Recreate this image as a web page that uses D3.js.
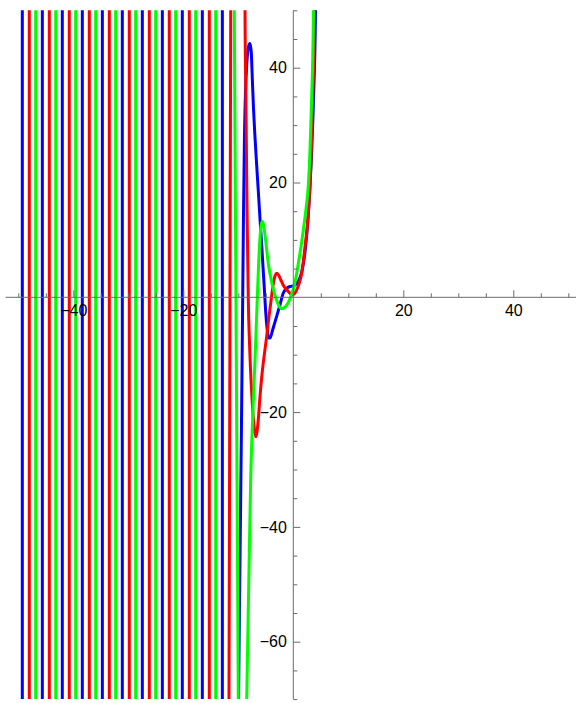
<!DOCTYPE html>
<html>
<head>
<meta charset="utf-8">
<script src="https://cdn.jsdelivr.net/npm/d3@7"></script>
<style>
    body { margin: 0; background: #fff; }
    .axis text { font-family: "Liberation Sans", Arial, sans-serif; font-size: 16px; fill: #000; }
</style>
</head>
<body>
<svg id="chart" width="576" height="703"></svg>
<script>
// x positions where each curve shoots straight through the whole plot (left side)
const blueStrokes = [-49.27, -45.63, -42.0, -38.36, -34.72, -31.09, -27.45, -23.81, -20.18, -16.54, -12.9];
const redStrokes = [-48.0, -44.36, -40.73, -37.09, -33.45, -29.82, -26.18, -22.55, -18.91, -15.27];
const greenStrokes = [-46.84, -43.2, -39.57, -35.93, -32.3, -28.66, -25.02, -21.39, -17.75, -14.11];

// smooth part of each curve, [x, y] (points outside the plot range get clipped)
const blueCurve = [
    [-10.1, -85], [-9.95, -70], [-9.8, -55], [-9.6, -38], [-9.4, -20], [-9.2, 0], [-9.05, 15],
    [-8.88, 28], [-8.7, 35.5], [-8.45, 40.8], [-8.15, 43.6], [-7.9, 44.2], [-7.65, 42.8],
    [-7.45, 38], [-7.24, 33], [-7.0, 28.5], [-6.67, 23.2], [-6.35, 18.3], [-6.05, 13.6],
    [-5.78, 9.6], [-5.33, 2.5], [-4.96, -3.3], [-4.7, -6.0], [-4.5, -7.1], [-4.25, -7.1],
    [-3.9, -6.2], [-3.64, -5.3], [-2.96, -3.1], [-2.42, -1.3], [-1.82, 0.75], [-1.15, 1.6],
    [-0.5, 1.9], [0, 2.0], [0.5, 2.3], [0.91, 2.8], [1.25, 3.5], [1.58, 4.6], [2.13, 7.9],
    [2.73, 14.3], [3.27, 23.9], [3.67, 34.4], [4.04, 50], [4.12, 65]
];
const redCurve = [
    [-11.73, -85], [-11.69, -70], [-11.38, 50], [-11.34, 65], [-8.82, 65], [-8.78, 50], [-8.62, 35],
    [-8.47, 20.4], [-8.32, 9], [-8.18, -0.5], [-7.95, -8.3], [-7.69, -14.4], [-7.45, -18.6],
    [-7.24, -21.4], [-7.0, -23.5], [-6.78, -24.3], [-6.55, -23.1], [-6.33, -20.9], [-6.05, -17.2],
    [-5.7, -13.5], [-5.3, -10.2], [-4.84, -6.8], [-4.4, -3.2], [-4.0, -0.2], [-3.64, 2.3],
    [-3.3, 3.8], [-3.0, 4.2], [-2.7, 3.9], [-2.3, 3.1], [-1.82, 2.1], [-1.2, 1.3], [-0.6, 0.7],
    [-0.18, 0.4], [0.2, 0.6], [0.62, 1.3], [1.1, 2.5], [1.53, 4.2], [2.13, 8.8], [2.73, 14.6],
    [3.22, 23.9], [3.55, 35], [3.85, 50], [3.95, 65]
];
const greenCurve = [
    [-10.82, 65], [-10.73, 50], [-10.0, -70], [-9.91, -85], [-8.75, -85], [-8.47, -70], [-8.1, -50],
    [-7.75, -31.8], [-7.35, -20], [-6.96, -10.9], [-6.62, -2], [-6.32, 5.5], [-6.05, 10.5],
    [-5.85, 12.5], [-5.64, 13.2], [-5.4, 12.6], [-5.1, 10.5], [-4.55, 5.9], [-3.9, 2.5],
    [-3.3, 0.3], [-2.7, -1.3], [-2.1, -2.0], [-1.5, -1.7], [-0.9, -0.9], [-0.4, 0.3], [0, 1.4],
    [0.45, 3.3], [0.91, 5.9], [1.35, 8.5], [1.82, 11.7], [2.3, 15.3], [2.73, 19.5], [3.05, 26],
    [3.35, 35], [3.64, 48], [3.75, 65]
];

const xMajorTicks = [-40, -20, 20, 40];
const yMajorTicks = [-60, -40, -20, 20, 40];

const series = [
    { color: "#0000ff", strokes: blueStrokes, curve: blueCurve },
    { color: "#ff0000", strokes: redStrokes, curve: redCurve },
    { color: "#00ff00", strokes: greenStrokes, curve: greenCurve },
];

const svg = d3.select("#chart");
const width = +svg.attr("width");

const x = d3.scaleLinear().domain([-50, 50]).range([18.3, 568.3]);
const y = d3.scaleLinear().domain([50, -70]).range([10.3, 699.1]);

svg.append("defs").append("clipPath")
    .attr("id", "plotClip")
    .append("rect")
    .attr("x", x(-50) - 2)
    .attr("y", y(50))
    .attr("width", x(50) - x(-50) + 4)
    .attr("height", y(-70) - y(50));

const line = d3.line()
    .x(d => x(d[0]))
    .y(d => y(d[1]))
    .curve(d3.curveMonotoneX);

const plot = svg.append("g").attr("clip-path", "url(#plotClip)");

// one group per function, drawn in order so green ends up on top
series.forEach(s => {
    const g = plot.append("g")
        .attr("stroke", s.color)
        .attr("stroke-width", 3)
        .attr("fill", "none");

    g.selectAll("line")
        .data(s.strokes)
        .enter().append("line")
        .attr("x1", d => x(d))
        .attr("x2", d => x(d))
        .attr("y1", y(-85))
        .attr("y2", y(65));

    g.append("path")
        .attr("d", line(s.curve))
        .attr("stroke-linejoin", "round");
});

// minor ticks every 5, without the ones under a major tick
const xMinorTicks = d3.range(-50, 51, 5).filter(v => v % 20 !== 0);
const yMinorTicks = d3.range(-70, 51, 5).filter(v => v % 20 !== 0);

const axisColor = "#6b6b6b";

// x axis, ticks pointing up and labels below
const xAxisG = svg.append("g")
    .attr("class", "axis")
    .attr("transform", `translate(0, ${y(0)})`);

xAxisG.append("g")
    .call(d3.axisBottom(x).tickValues(xMinorTicks).tickSizeInner(-4).tickSizeOuter(0).tickFormat(""))
    .call(g => g.select(".domain").remove());
xAxisG.append("g")
    .call(d3.axisBottom(x).tickValues(xMajorTicks).tickSizeInner(-7).tickSizeOuter(0).tickPadding(7.5))
    .call(g => g.select(".domain").remove());
xAxisG.append("line")
    .attr("x1", x(-52.3))
    .attr("x2", width)
    .attr("stroke", axisColor);

// y axis, ticks pointing right and labels on the left
const yAxisG = svg.append("g")
    .attr("class", "axis")
    .attr("transform", `translate(${x(0)}, 0)`);

yAxisG.append("g")
    .call(d3.axisLeft(y).tickValues(yMinorTicks).tickSizeInner(-4).tickSizeOuter(0).tickFormat(""))
    .call(g => g.select(".domain").remove());
yAxisG.append("g")
    .call(d3.axisLeft(y).tickValues(yMajorTicks).tickSizeInner(-7).tickSizeOuter(0).tickPadding(6.5))
    .call(g => g.select(".domain").remove());
yAxisG.append("line")
    .attr("y1", y(50))
    .attr("y2", y(-70))
    .attr("stroke", axisColor);

svg.selectAll(".axis .tick line").attr("stroke", axisColor);
</script>
</body>
</html>
